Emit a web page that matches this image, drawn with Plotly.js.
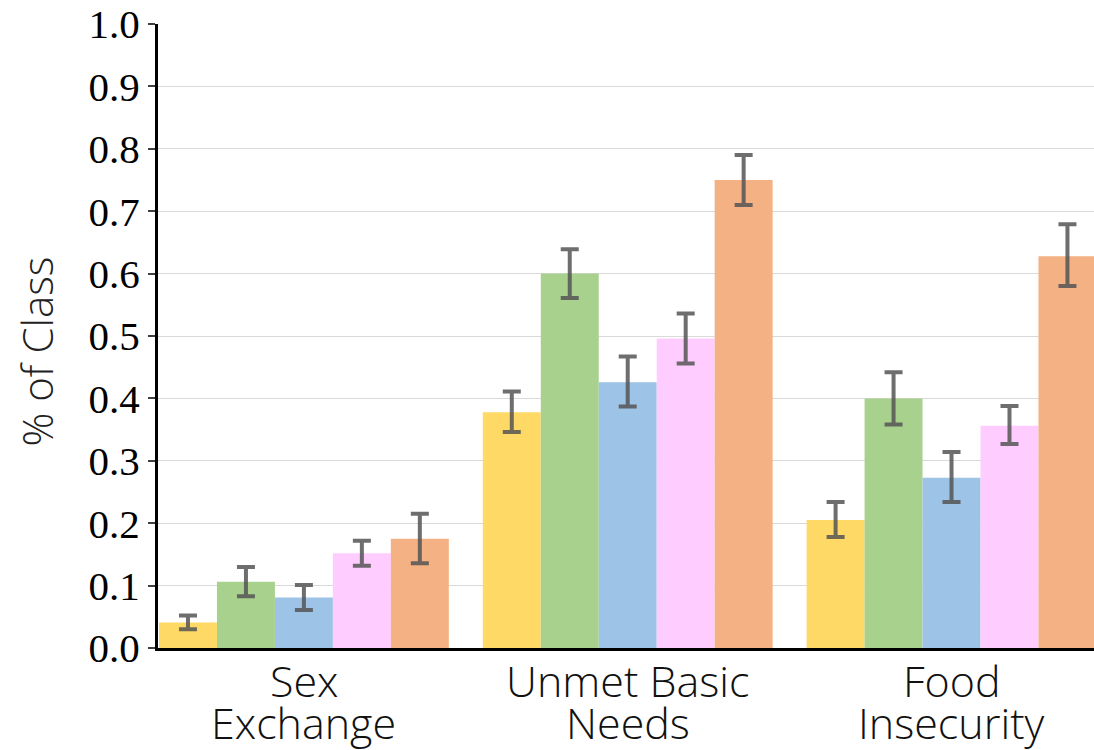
<!DOCTYPE html>
<html>
<head>
<meta charset="utf-8">
<script src="https://cdn.plot.ly/plotly-3.0.1.min.js"></script>
<style>html,body{margin:0;padding:0;background:#fff;}#chart{width:1094px;height:750px;}</style>
</head>
<body>
<div id="chart"></div>
<script>
const categoryLine1 = ["Sex", "Unmet Basic", "Food"];
const categoryLine2 = ["Exchange", "Needs", "Insecurity"];
const seriesNames = ["Class 1", "Class 2", "Class 3", "Class 4", "Class 5"];
const seriesColors = ["#FFD966", "#A9D18E", "#9DC3E6", "#FFCCFF", "#F4B183"];
const values = [
  [0.041, 0.378, 0.205],
  [0.106, 0.600, 0.400],
  [0.081, 0.426, 0.273],
  [0.152, 0.496, 0.356],
  [0.175, 0.750, 0.628]
];
const errPlus = [
  [0.011, 0.033, 0.029],
  [0.024, 0.039, 0.042],
  [0.020, 0.041, 0.041],
  [0.020, 0.040, 0.032],
  [0.040, 0.040, 0.051]
];
const errMinus = [
  [0.011, 0.032, 0.027],
  [0.023, 0.039, 0.042],
  [0.020, 0.039, 0.039],
  [0.020, 0.040, 0.029],
  [0.039, 0.040, 0.048]
];
const yTickVals = [0,0.1,0.2,0.3,0.4,0.5,0.6,0.7,0.8,0.9,1.0];
const yTickText = ["0.0","0.1","0.2","0.3","0.4","0.5","0.6","0.7","0.8","0.9","1.0"];
const yTitle = "% of Class";

const traces = seriesNames.map((name, i) => ({
  type: "bar",
  name: name,
  x: [0, 1, 2],
  y: values[i],
  marker: {color: seriesColors[i], line: {width: 0}},
  error_y: {
    type: "data",
    symmetric: false,
    array: errPlus[i],
    arrayminus: errMinus[i],
    color: "rgba(85,85,85,0.85)",
    thickness: 4,
    width: 9
  },
  hoverinfo: "none"
}));

const labelFont = {family: "Open Sans, sans-serif", size: 43, color: "#111111", weight: 300};
const annotations = [];
for (let i = 0; i < categoryLine1.length; i++) {
  annotations.push({xref: "x", yref: "paper", x: i, y: 0, xanchor: "center", yanchor: "top",
    text: categoryLine1[i], showarrow: false, font: labelFont, yshift: -2, borderpad: 0});
  annotations.push({xref: "x", yref: "paper", x: i, y: 0, xanchor: "center", yanchor: "top",
    text: categoryLine2[i], showarrow: false, font: labelFont, yshift: -44, borderpad: 0});
}
annotations.push({xref: "paper", yref: "paper", x: -0.1293, y: 0.475, xanchor: "center", yanchor: "middle",
  text: yTitle, textangle: -90, showarrow: false,
  font: {family: "Open Sans, sans-serif", size: 42, color: "#222222", weight: 300}});

const layout = {
  width: 1094,
  height: 750,
  margin: {l: 158, r: 0, t: 24, b: 102, pad: 0},
  paper_bgcolor: "#ffffff",
  plot_bgcolor: "#ffffff",
  showlegend: false,
  barmode: "group",
  bargap: 0.105,
  bargroupgap: 0,
  annotations: annotations,
  xaxis: {
    range: [-0.4506, 2.44],
    tickmode: "array",
    tickvals: [0, 1, 2],
    showticklabels: false,
    ticks: "",
    showgrid: false,
    zeroline: false,
    showline: true,
    linecolor: "#000000",
    linewidth: 3,
    fixedrange: true
  },
  yaxis: {
    range: [0, 1.0],
    tickmode: "array",
    tickvals: yTickVals,
    ticktext: yTickText,
    ticks: "outside",
    ticklen: 7,
    tickwidth: 2,
    tickcolor: "#404040",
    showgrid: true,
    gridcolor: "#d9d9d9",
    gridwidth: 1,
    zeroline: false,
    showline: true,
    linecolor: "#000000",
    linewidth: 3,
    tickfont: {family: "Liberation Serif, Times New Roman, serif", size: 41, color: "#000000"},
    fixedrange: true
  }
};

Plotly.newPlot("chart", traces, layout, {displayModeBar: false, staticPlot: true});
</script>
</body>
</html>
